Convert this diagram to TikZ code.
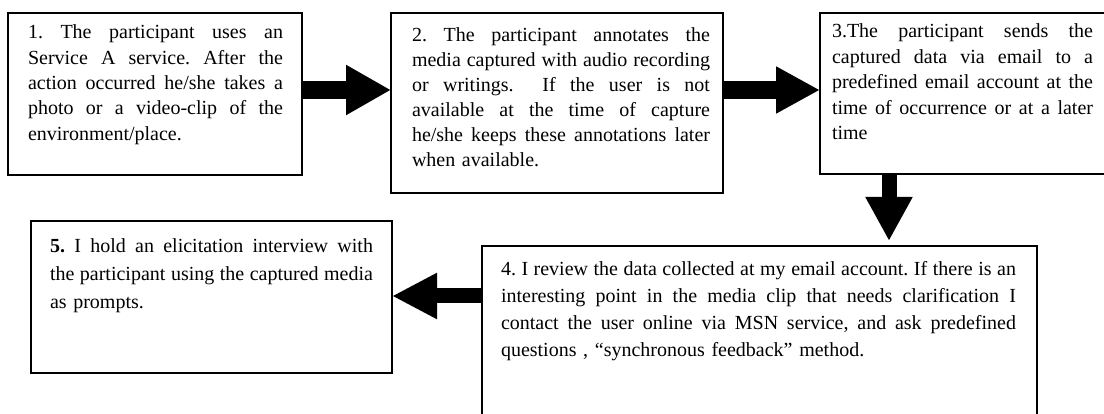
\documentclass[tikz,border=0pt]{standalone}
\usepackage{fontspec}
\setmainfont{Liberation Serif}
\usetikzlibrary{arrows.meta}
\frenchspacing
\newcommand\jl[1]{\makebox[\hsize][s]{\spaceskip=0.15em plus 1em minus 0.05em\relax #1}}
\begin{document}
\begin{tikzpicture}[x=1pt,y=-1pt,
  box/.style={draw, line width=1.6pt, inner sep=0pt, outer sep=0pt, anchor=north west},
  txt/.style={inner sep=0pt, outer sep=0pt, anchor=base west, align=left, font=\fontsize{20}{#1}\selectfont\frenchspacing},
  txt/.default=25.3,
  blockarrow/.style args={#1/#2/#3}{line width=#1, -{Triangle[length=#3, width=#2]}}]
\useasboundingbox (0,0) rectangle (1104,414);
% boxes
\node[box, minimum width=294pt, minimum height=162pt] (b1) at (8,13) {};
\node[box, minimum width=332pt, minimum height=180pt] (b2) at (391,13) {};
\node[box, minimum width=300pt, minimum height=161pt] (b3) at (820,13) {};
\node[box, minimum width=555pt, minimum height=190pt] (b4) at (482,246) {};
\node[box, minimum width=361pt, minimum height=152pt] (b5) at (31,221) {};
% texts
\node[txt, text width=255pt] (t1) at (28,39) {\jl{1. The participant uses an}\\\jl{Service A service. After the}\\\jl{action occurred he/she takes a}\\\jl{photo or a video-clip of the}\\environment/place.};
\node[txt=25, text width=298pt] (t2) at (412,42) {\jl{2. The participant annotates the}\\\jl{media captured with audio recording}\\\jl{or writings.\ \ If the user is not}\\\jl{available at the time of capture}\\\jl{he/she keeps these annotations later}\\when available.};
\node[txt=25.5, text width=261pt] (t3) at (832,38) {\jl{3.The participant sends the}\\\jl{captured data via email to a}\\\jl{predefined email account at the}\\\jl{time of occurrence or at a later}\\time};
\node[txt=26.7, text width=515pt] (t4) at (501,276) {\jl{4. I review the data collected at my email account. If there is an}\\\jl{interesting point in the media clip that needs clarification I}\\\jl{contact the user online via MSN service, and ask predefined}\\questions , “synchronous feedback” method.};
\node[txt=28, text width=323pt] (t5) at (50,253) {\jl{\textbf{5.} I hold an elicitation interview with}\\\jl{the participant using the captured media}\\as prompts.};
% arrows
\draw[blockarrow=18pt/47pt/45pt] (b1.east |- 0,90) -- (b2.west |- 0,90);
\draw[blockarrow=18pt/44pt/44pt] (b2.east |- 0,90) -- (b3.west |- 0,90);
\draw[blockarrow=15pt/44pt/44pt, shorten >=5pt] (b3.south -| 889,0) -- (b4.north -| 889,0);
\draw[blockarrow=15pt/43pt/45pt] (b4.west |- 0,296) -- (b5.east |- 0,296);
\end{tikzpicture}
\end{document}
